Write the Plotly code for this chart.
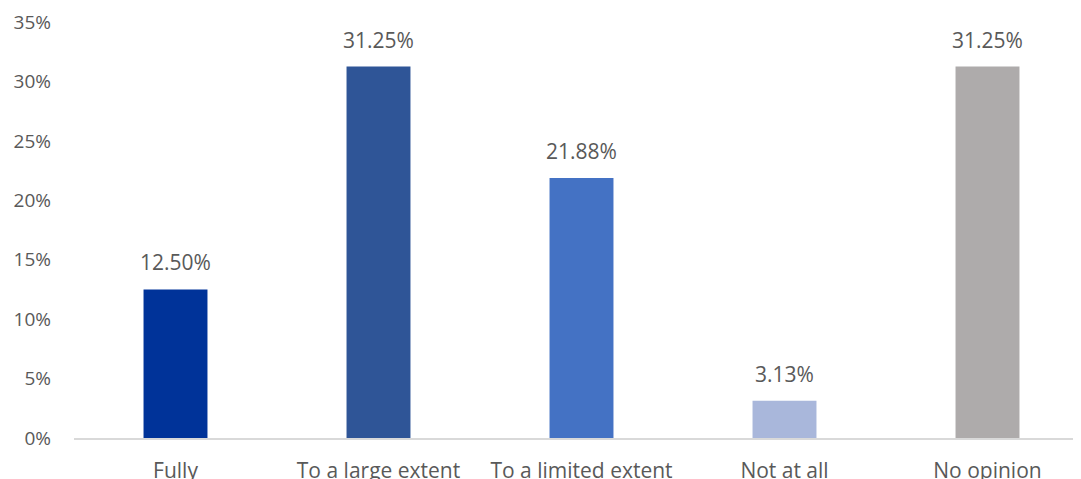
import plotly.graph_objects as go

categories = ["Fully", "To a large extent", "To a limited extent", "Not at all", "No opinion"]
values = [12.50, 31.25, 21.88, 3.13, 31.25]
labels = ["12.50%", "31.25%", "21.88%", "3.13%", "31.25%"]
colors = ["#003399", "#2F5597", "#4472C4", "#A9B7DB", "#AEABAB"]
y_ticks = [0, 5, 10, 15, 20, 25, 30, 35]
y_tick_text = ["0%", "5%", "10%", "15%", "20%", "25%", "30%", "35%"]

font_family = "Open Sans, Liberation Sans, sans-serif"
text_color = "#595959"

fig = go.Figure()
fig.add_trace(go.Bar(
    x=categories, y=values, marker=dict(color=colors, line=dict(width=0)),
    width=0.315, hoverinfo="skip",
))
for c, v, t in zip(categories, values, labels):
    fig.add_annotation(x=c, y=v, text=t, showarrow=False, yanchor="bottom",
                       yshift=11, font=dict(size=21, color=text_color, family=font_family))

fig.update_layout(
    width=1081, height=479,
    margin=dict(l=66, r=0, t=14, b=49),
    plot_bgcolor="white", paper_bgcolor="white",
    showlegend=False,
    font=dict(family=font_family, size=20, color=text_color),
)
fig.update_xaxes(
    range=[-0.5, 4.5], showline=True, linecolor="#D9D9D9", linewidth=2,
    showgrid=False, zeroline=False, ticks="", tickfont=dict(size=21, color=text_color),
    ticklabelstandoff=13, automargin=False,
)
fig.update_yaxes(
    range=[0, 35], tickvals=y_ticks, ticktext=y_tick_text, showgrid=False,
    zeroline=False, showline=False, ticks="", tickfont=dict(size=19, color=text_color),
    ticklabelstandoff=22, automargin=False,
)
fig.write_html("out.html")
